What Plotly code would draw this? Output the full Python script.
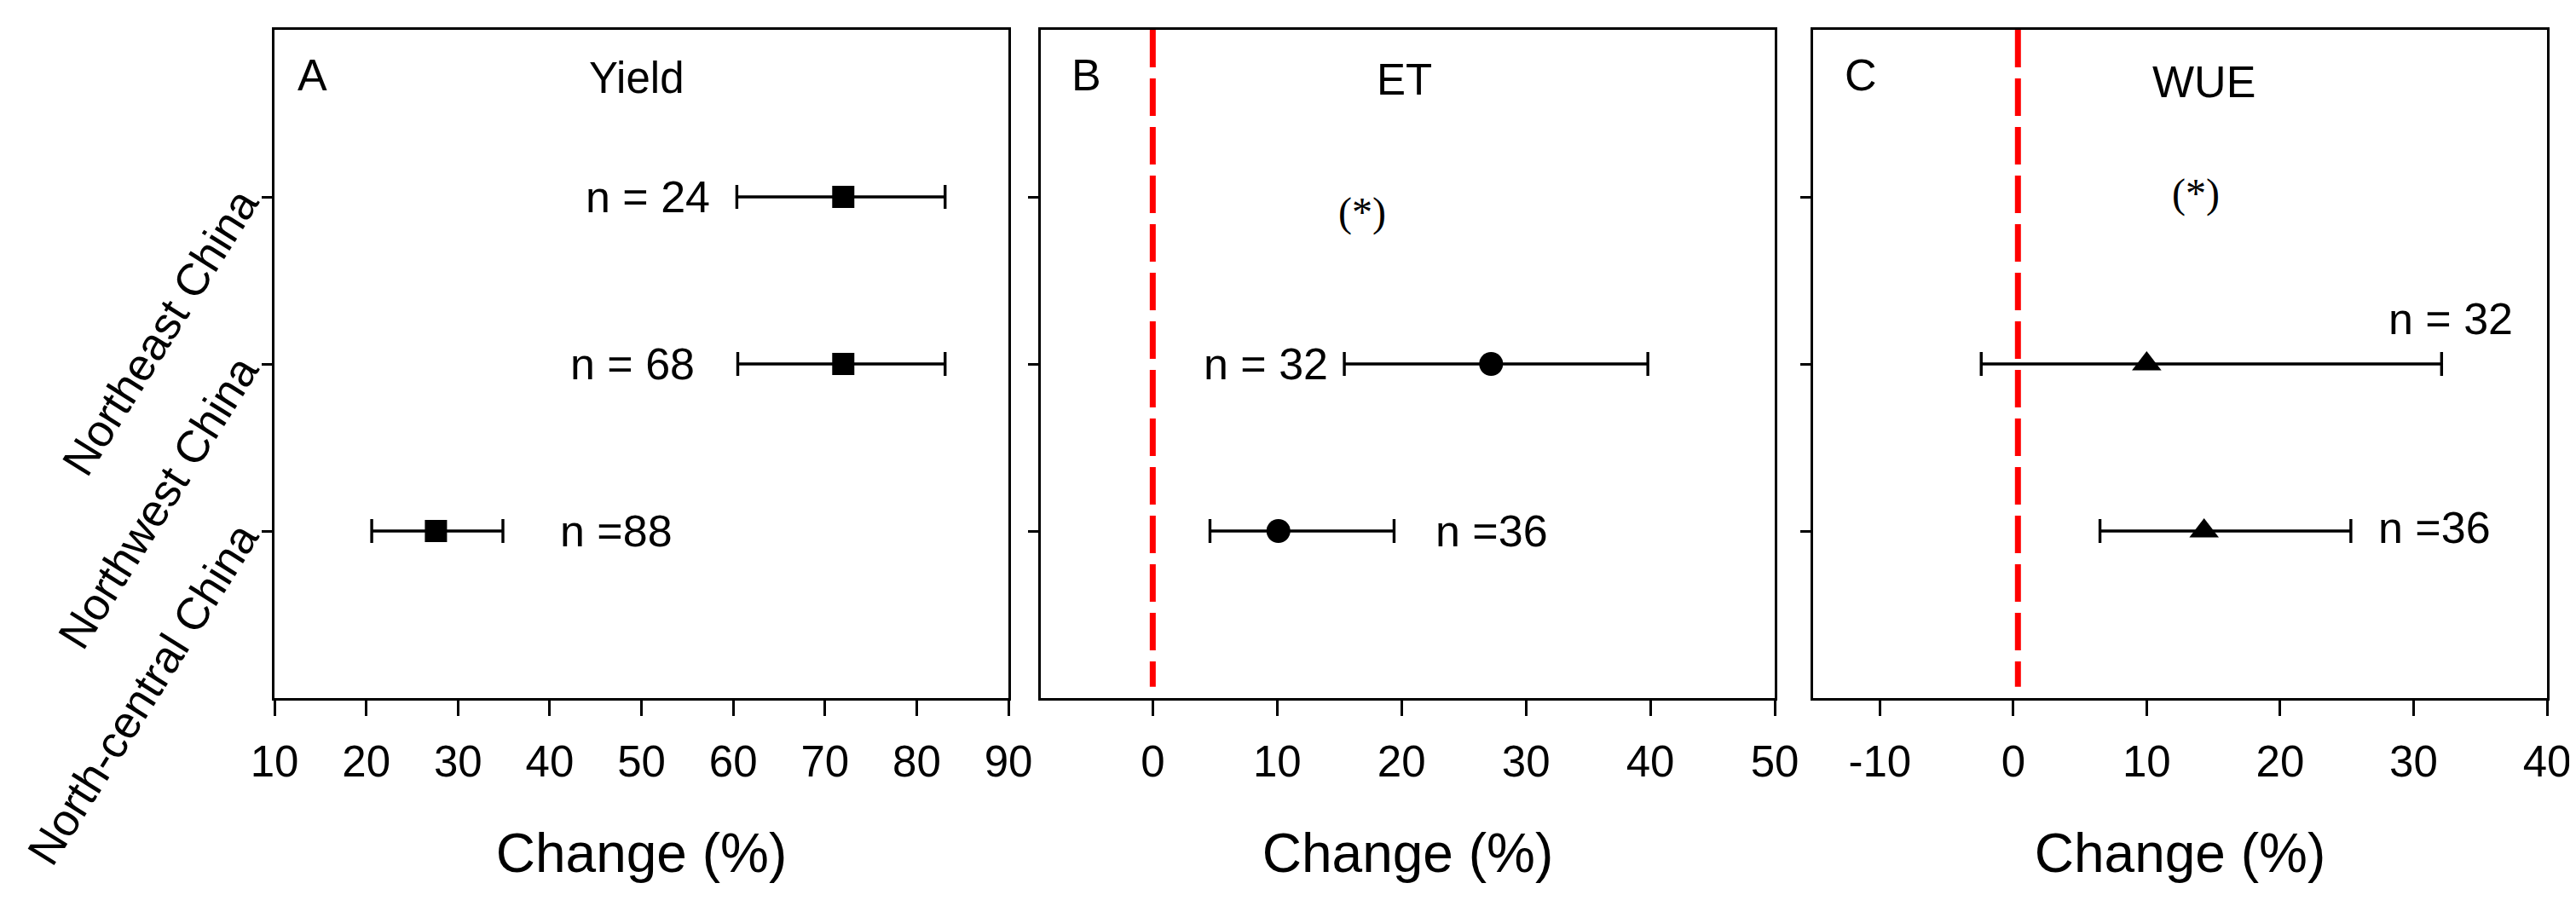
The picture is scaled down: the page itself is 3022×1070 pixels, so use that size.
import plotly.graph_objects as go

# ---------------- data ----------------
regions = ["Northeast China", "Northwest China", "North-central China"]
region_pos = [1, 2, 3]

yield_rows = [1, 2, 3]
yield_mean = [72.0, 72.0, 27.6]
yield_lo = [60.4, 60.5, 20.6]
yield_hi = [83.1, 83.1, 34.9]
yield_n = ["n = 24", "n = 68", "n =88"]

et_rows = [2, 3]
et_mean = [27.2, 10.1]
et_lo = [15.4, 4.6]
et_hi = [39.8, 19.4]
et_n = ["n = 32", "n =36"]

wue_rows = [2, 3]
wue_mean = [10.0, 14.3]
wue_lo = [-2.4, 6.5]
wue_hi = [32.1, 25.3]
wue_n = ["n = 32", "n =36"]

zero_line = {"x2": 0.0, "x3": 0.35}

xticks_A = [10, 20, 30, 40, 50, 60, 70, 80, 90]
xticks_B = [0, 10, 20, 30, 40, 50]
xticks_C = [-10, 0, 10, 20, 30, 40]

# ---------------- layout constants ----------------
W, H = 3022, 1070
FONT = "Liberation Sans, Arial, sans-serif"
LW = 3

fig = go.Figure()

def add_panel(xa, ya, rows, mean, lo, hi, symbol, size):
    fig.add_trace(go.Scatter(
        x=mean, y=rows, mode="markers", xaxis=xa, yaxis=ya,
        marker=dict(symbol=symbol, size=size, color="black", line=dict(width=0)),
        error_x=dict(type="data", symmetric=False,
                     array=[h - m for h, m in zip(hi, mean)],
                     arrayminus=[m - l for m, l in zip(mean, lo)],
                     color="black", thickness=3.4, width=14),
        showlegend=False, hoverinfo="skip"))

add_panel("x", "y", yield_rows, yield_mean, yield_lo, yield_hi, "square", 26)
add_panel("x2", "y2", et_rows, et_mean, et_lo, et_hi, "circle", 28)
add_panel("x3", "y3", wue_rows, wue_mean, wue_lo, wue_hi, "triangle-up", 30)

domains = [(314 / W, 1175 / W), (1213 / W, 2074 / W), (2119 / W, 2980 / W)]
ranges = [[10, 90], [-9, 50], [-15, 40]]
ticks = [xticks_A, xticks_B, xticks_C]

def xaxis_cfg(i):
    return dict(domain=list(domains[i]), range=ranges[i], tickvals=ticks[i],
                ticktext=[str(v) for v in ticks[i]],
                showline=True, linecolor="black", linewidth=LW, mirror=True,
                ticks="outside", ticklen=18, tickwidth=LW, tickcolor="black",
                showgrid=False, zeroline=False,
                tickfont=dict(family=FONT, size=51, color="black"),
                ticklabelstandoff=10,
                title=dict(text="Change (%)", font=dict(family=FONT, size=64, color="black"),
                           standoff=57),
                anchor=["y", "y2", "y3"][i], fixedrange=True)

def yaxis_cfg(i):
    d = dict(domain=[0, 1], range=[4, 0], tickvals=region_pos,
             showline=True, linecolor="black", linewidth=LW, mirror=True,
             ticks="outside", ticklen=12, tickwidth=LW, tickcolor="black",
             showgrid=False, zeroline=False,
             anchor=["x", "x2", "x3"][i], fixedrange=True)
    if i == 0:
        d.update(ticktext=regions, tickangle=-58, automargin=False,
                 ticklabelstandoff=14,
                 tickfont=dict(family=FONT, size=53, color="black"))
    else:
        d.update(showticklabels=False)
    return d

fig.update_layout(
    width=W, height=H,
    margin=dict(l=0, r=0, t=27, b=259, autoexpand=False),
    paper_bgcolor="white", plot_bgcolor="white",
    xaxis=xaxis_cfg(0), xaxis2=xaxis_cfg(1), xaxis3=xaxis_cfg(2),
    yaxis=yaxis_cfg(0), yaxis2=yaxis_cfg(1), yaxis3=yaxis_cfg(2),
)

# red dashed reference lines
for xa, xv in zero_line.items():
    ya = {"x2": "y2", "x3": "y3"}[xa]
    fig.add_shape(type="line", xref=xa, yref=ya + " domain",
                  x0=xv, x1=xv, y0=1, y1=0.017,
                  line=dict(color="#FF0000", width=7, dash="44px,13px"),
                  layer="above")

ann = []
def txt(text, x, y, xref, yref, xanchor="center", size=52, family=FONT):
    ann.append(dict(text=text, x=x, y=y, xref=xref, yref=yref, xanchor=xanchor,
                    yanchor="middle", showarrow=False,
                    font=dict(family=family, size=size, color="black")))

# panel letters
txt("A", 25 / 861, 0.932, "x domain", "y domain", "left", 52)
txt("B", 34 / 861, 0.932, "x2 domain", "y2 domain", "left", 52)
txt("C", 35 / 861, 0.932, "x3 domain", "y3 domain", "left", 52)
# panel titles
txt("Yield", 49.5, 0.29, "x", "y", "center", 51)
txt("ET", 20.2, 0.30, "x2", "y2", "center", 51)
txt("WUE", 14.3, 0.31, "x3", "y3", "center", 52)
# significance marks
SERIF = "Liberation Serif, Times New Roman, serif"
txt("(*)", 16.8, 1.09, "x2", "y2", "center", 48, SERIF)
txt("(*)", 13.7, 0.98, "x3", "y3", "center", 48, SERIF)

# n labels
txt(yield_n[0], 57.7, yield_rows[0], "x", "y", "right")
txt(yield_n[1], 56.0, yield_rows[1], "x", "y", "right")
txt(yield_n[2], 40.9, yield_rows[2], "x", "y", "left")
txt(et_n[0], 14.2, et_rows[0], "x2", "y2", "right")
txt(et_n[1], 22.6, et_rows[1], "x2", "y2", "left")
txt(wue_n[0], 32.8, 1.73, "x3", "y3", "center")
txt(wue_n[1], 27.2, wue_rows[1] - 0.02, "x3", "y3", "left")

fig.update_layout(annotations=ann)

fig.write_html("out.html")
